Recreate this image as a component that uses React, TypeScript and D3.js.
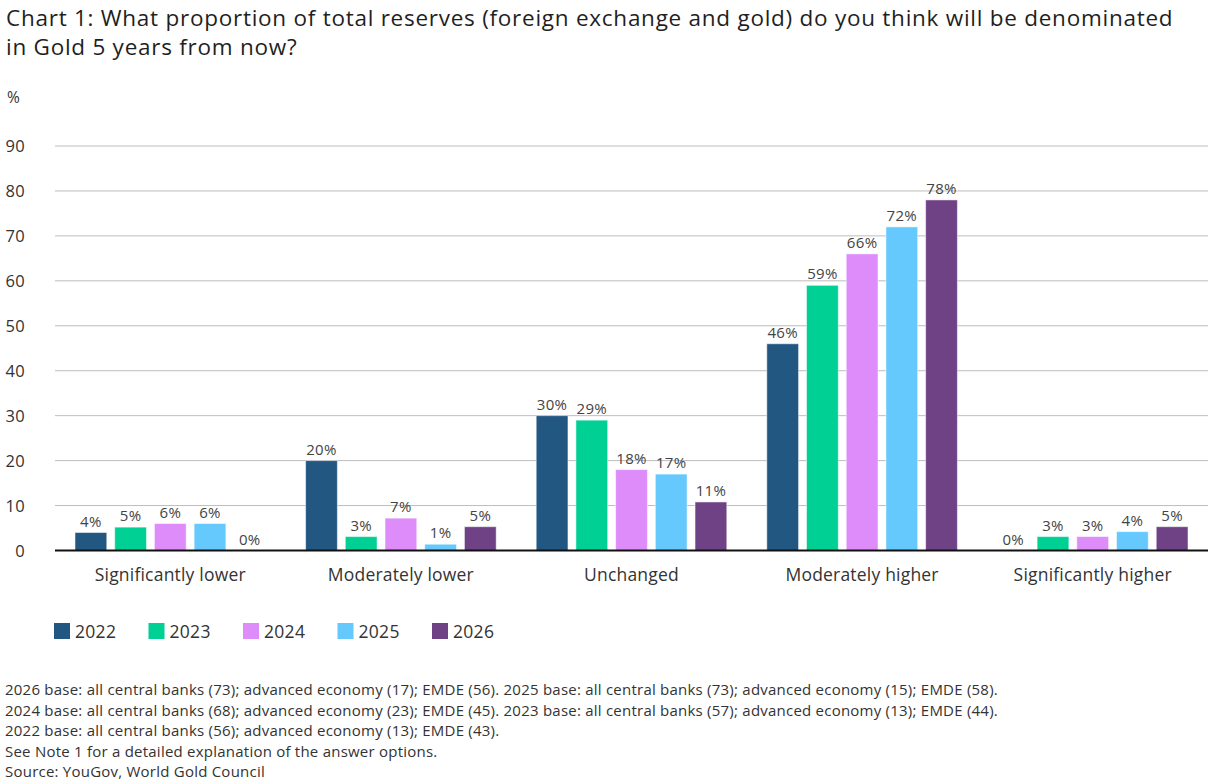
import * as d3 from "d3";

const categories = [
  "Significantly lower",
  "Moderately lower",
  "Unchanged",
  "Moderately higher",
  "Significantly higher",
];
const years = ["2022", "2023", "2024", "2025", "2026"];
const colors = ["#225782", "#00d093", "#dd8cfa", "#66c9fe", "#6f4286"];

// one array per survey year, in category order
const v2022 = [4, 20, 30, 46, 0];
const v2023 = [5.2, 3.1, 29, 59, 3.1];
const v2024 = [6, 7.2, 18, 66, 3.1];
const v2025 = [6, 1.4, 17, 72, 4.2];
const v2026 = [0, 5.3, 10.8, 78, 5.3];
const series = [v2022, v2023, v2024, v2025, v2026];

const yTicks = [0, 10, 20, 30, 40, 50, 60, 70, 80, 90];

const titleLines = [
  "Chart 1: What proportion of total reserves (foreign exchange and gold) do you think will be denominated",
  "in Gold 5 years from now?",
];
const footnotes = [
  "2026 base: all central banks (73); advanced economy (17); EMDE (56). 2025 base: all central banks (73); advanced economy (15); EMDE (58).",
  "2024 base: all central banks (68); advanced economy (23); EMDE (45). 2023 base: all central banks (57); advanced economy (13); EMDE (44).",
  "2022 base: all central banks (56); advanced economy (13); EMDE (43).",
  "See Note 1 for a detailed explanation of the answer options.",
  "Source: YouGov, World Gold Council",
];

const W = 1210;
const H = 784;
const left = 55;
const right = 1208;
const font = "'Open Sans', 'Noto Sans', sans-serif";

export default function App() {
  const y = d3.scaleLinear().domain([0, 90]).range([550.5, 146]);
  const x0 = d3.scaleBand<string>().domain(categories).range([left, right]);
  const x1 = d3
    .scaleBand<string>()
    .domain(years)
    .range([20, x0.bandwidth() - 20])
    .paddingInner(0.2);

  return (
    <svg
      width={W}
      height={H}
      style={{ position: "absolute", left: 0, top: 0, background: "#fff" }}
      fontFamily={font}
    >
      {titleLines.map((t, i) => (
        <text
          key={t}
          x={6}
          y={26 + i * 29}
          fontSize={22.5}
          letterSpacing={0.74}
          fill="#1f1f1f"
        >
          {t}
        </text>
      ))}
      <text x={7} y={103} fontSize={15.5} fill="#333">
        %
      </text>

      {/* grid + y ticks */}
      {yTicks.map((t) => (
        <g key={t}>
          {t > 0 && (
            <line x1={left} x2={right} y1={y(t)} y2={y(t)} stroke="#bdbdbd" strokeWidth={1} />
          )}
          <text x={25} y={y(t) + 6} fontSize={16.5} letterSpacing={0.3} textAnchor="end" fill="#333">
            {t}
          </text>
        </g>
      ))}

      {/* bars */}
      {categories.map((c, ci) => (
        <g key={c} transform={`translate(${x0(c)},0)`}>
          {years.map((yr, si) => {
            const v = series[si][ci];
            const bx = x1(yr)!;
            return (
              <g key={yr}>
                {v > 0 && (
                  <rect
                    x={bx}
                    y={y(v)}
                    width={x1.bandwidth()}
                    height={y(0) - y(v)}
                    fill={colors[si]}
                    stroke="#ffffff"
                    strokeOpacity={0.5}
                    strokeWidth={1}
                  />
                )}
                <text
                  x={bx + x1.bandwidth() / 2}
                  y={y(v) - 6}
                  fontSize={15}
                  letterSpacing={0.3}
                  textAnchor="middle"
                  fill="#444"
                >
                  {Math.round(v)}%
                </text>
              </g>
            );
          })}
          <text
            x={x0.bandwidth() / 2}
            y={581}
            fontSize={17.5}
            letterSpacing={0.2}
            textAnchor="middle"
            fill="#333"
          >
            {c}
          </text>
        </g>
      ))}

      <line x1={left} x2={right} y1={y(0)} y2={y(0)} stroke="#111" strokeWidth={2} />

      {/* legend */}
      {years.map((yr, i) => (
        <g key={yr} transform={`translate(${54 + i * 94.5},623)`}>
          <rect width={16} height={16} fill={colors[i]} />
          <text x={21} y={14.5} fontSize={17.5} letterSpacing={0.3} fill="#333">
            {yr}
          </text>
        </g>
      ))}

      {/* footnotes */}
      {footnotes.map((f, i) => (
        <text key={i} x={5} y={695 + i * 20.6} fontSize={15} letterSpacing={0.23} fill="#333">
          {f}
        </text>
      ))}
    </svg>
  );
}
